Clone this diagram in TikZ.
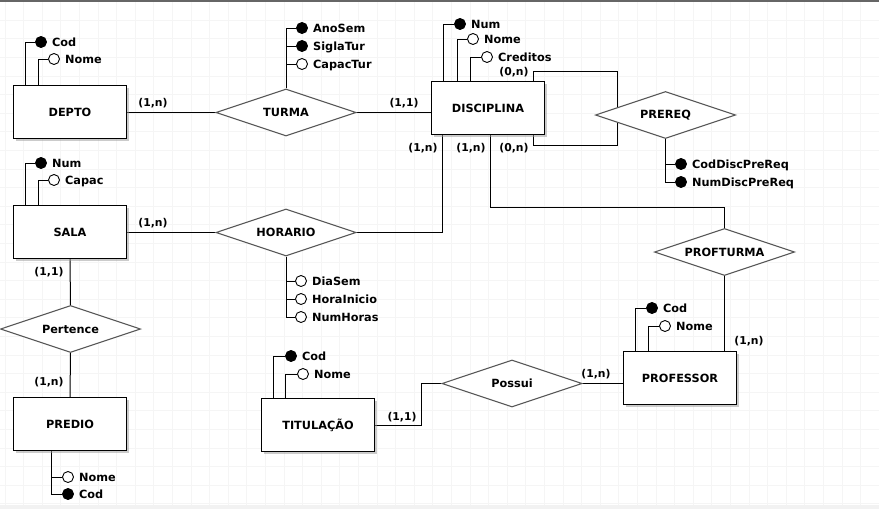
\documentclass[tikz,border=0pt]{standalone}
\usepackage{fontspec}
\setmainfont{DejaVu Sans}
\usetikzlibrary{shapes.geometric,shadows,calc}
\pgfdeclarelayer{gridl}
\pgfdeclarelayer{edges}
\pgfsetlayers{gridl,edges,main}
\newcommand{\erfont}{\bfseries\fontsize{11.3}{13}\selectfont}
\newcommand{\cardfont}{\bfseries\fontsize{10.8}{12}\selectfont}
\begin{document}
\begin{tikzpicture}[x=1pt,y=-1pt,
  entity/.style={draw=black, line width=1.2pt, fill=white, minimum width=113pt, minimum height=53pt, inner sep=0pt, font=\erfont, drop shadow={shadow xshift=2pt,shadow yshift=-2pt,fill=black!40}},
  rel/.style={diamond, aspect=3, draw=black!65, line width=1.1pt, fill=white, inner sep=0pt, font=\erfont, minimum width=140pt, minimum height=47pt},
  keyattr/.style={circle, draw=black, fill=black, minimum size=11pt, inner sep=0pt, line width=0.9pt},
  attr/.style={keyattr, fill=white},
  atext/.style={anchor=west, inner sep=0pt, font=\erfont, text height=8.2pt, text depth=0pt},
  card/.style={inner sep=0pt, font=\cardfont, text height=7.6pt, text depth=0pt},
  conn/.style={draw=black, line width=1pt}
]
\useasboundingbox (0,0) rectangle (879,509);

% background grid
\begin{pgfonlayer}{gridl}
  \fill[white] (0,0) rectangle (879,509);
  \foreach \i in {0,...,47} \draw[black!4, line width=0.6pt] ({4.8+18.6*\i},0) -- ++(0,509);
  \foreach \j in {0,...,27} \draw[black!4, line width=0.6pt] (0,{1.4+18.6*\j}) -- ++(879,0);
  \fill[black!5] (0,505) rectangle (879,509);
  \draw[black!60, line width=1.5pt] (0,0.75) -- (879,0.75);
\end{pgfonlayer}

% entities
\node[entity] (DEPTO) at (70,112) {DEPTO};
\node[entity] (SALA) at (70,232) {SALA};
\node[entity] (PREDIO) at (70,424) {PREDIO};
\node[entity] (DISC) at (488,108) {DISCIPLINA};
\node[entity] (PROF) at (680,378) {PROFESSOR};
\node[entity] (TIT) at (318,425) {TITULAÇÃO};

% relationships
\node[rel] (TURMA) at (286,112.5) {TURMA};
\node[rel] (HORARIO) at (286,232.5) {HORARIO};
\node[rel] (PREREQ) at (665.5,115) {PREREQ};
\node[rel] (PROFTURMA) at (724.5,252) {PROFTURMA};
\node[rel] (PERT) at (70.5,329) {Pertence};
\node[rel] (POSSUI) at (512,383.5) {Possui};

% attribute circles
\node[keyattr] (d1) at (41,42) {};
\node[attr] (d2) at (54,59) {};
\node[keyattr] (s1) at (41,163) {};
\node[attr] (s2) at (54,180) {};
\node[keyattr] (t1) at (302,28) {};
\node[keyattr] (t2) at (302,46) {};
\node[attr] (t3) at (302,64) {};
\node[keyattr] (n1) at (460,24) {};
\node[attr] (n2) at (473,39) {};
\node[attr] (n3) at (487,57) {};
\node[keyattr] (r1) at (681,164) {};
\node[keyattr] (r2) at (681,182) {};
\node[attr] (h1) at (301,281) {};
\node[attr] (h2) at (301,299) {};
\node[attr] (h3) at (301,317) {};
\node[keyattr] (p1) at (652,308) {};
\node[attr] (p2) at (665,326) {};
\node[keyattr] (ti1) at (291,356) {};
\node[attr] (ti2) at (303,374) {};
\node[attr] (pd1) at (68,477) {};
\node[keyattr] (pd2) at (68,494) {};

% attribute texts
\node[atext] (d1t) at ($(d1.east)+(5,0)$) {Cod};
\node[atext] (d2t) at ($(d2.east)+(5,0)$) {Nome};
\node[atext] (s1t) at ($(s1.east)+(5,0)$) {Num};
\node[atext] (s2t) at ($(s2.east)+(5,0)$) {Capac};
\node[atext] (t1t) at ($(t1.east)+(5,0)$) {AnoSem};
\node[atext] (t2t) at ($(t2.east)+(5,0)$) {SiglaTur};
\node[atext] (t3t) at ($(t3.east)+(5,0)$) {CapacTur};
\node[atext] (n1t) at ($(n1.east)+(5,0)$) {Num};
\node[atext] (n2t) at ($(n2.east)+(5,0)$) {Nome};
\node[atext] (n3t) at ($(n3.east)+(5,0)$) {Creditos};
\node[atext] (r1t) at ($(r1.east)+(5,0)$) {CodDiscPreReq};
\node[atext] (r2t) at ($(r2.east)+(5,0)$) {NumDiscPreReq};
\node[atext] (h1t) at ($(h1.east)+(5,0)$) {DiaSem};
\node[atext] (h2t) at ($(h2.east)+(5,0)$) {HoraInicio};
\node[atext] (h3t) at ($(h3.east)+(5,0)$) {NumHoras};
\node[atext] (p1t) at ($(p1.east)+(5,0)$) {Cod};
\node[atext] (p2t) at ($(p2.east)+(5,0)$) {Nome};
\node[atext] (ti1t) at ($(ti1.east)+(5,0)$) {Cod};
\node[atext] (ti2t) at ($(ti2.east)+(5,0)$) {Nome};
\node[atext] (pd1t) at ($(pd1.east)+(5,0)$) {Nome};
\node[atext] (pd2t) at ($(pd2.east)+(5,0)$) {Cod};

% cardinalities
\node[card] (c1) at (153,103) {(1,n)};
\node[card] (c2) at (404,103) {(1,1)};
\node[card] (c3) at (423,148) {(1,n)};
\node[card] (c4) at (471,148) {(1,n)};
\node[card] (c5) at (514,148) {(0,n)};
\node[card] (c6) at (514,72) {(0,n)};
\node[card] (c7) at (153,223) {(1,n)};
\node[card] (c8) at (49,272) {(1,1)};
\node[card] (c9) at (49,382) {(1,n)};
\node[card] (c10) at (402,417) {(1,1)};
\node[card] (c11) at (596,374) {(1,n)};
\node[card] (c12) at (749,341) {(1,n)};

% connectors
\begin{pgfonlayer}{edges}
  \draw[conn] (DEPTO.east |- TURMA.west) -- (TURMA.west);
  \draw[conn] (TURMA.east) -- (TURMA.east -| DISC.west);
  \draw[conn] (SALA.east |- HORARIO.west) -- (HORARIO.west);
  \draw[conn] (HORARIO.east) -| ($(DISC.south west)+(12,0)$);
  \draw[conn] ($(DISC.south west)+(60,0)$) |- ($(PROFTURMA.north)+(0,-20)$) -- (PROFTURMA.north);
  \draw[conn] (PROFTURMA.south) -- (PROFTURMA.south |- PROF.north);
  \draw[conn] ($(DISC.north west)+(103,0)$) -- ++(0,-9) -| ($(PREREQ.west)+(23,0)$);
  \draw[conn] ($(DISC.south west)+(103,0)$) -- ++(0,10) -| ($(PREREQ.west)+(23,0)$);
  \draw[conn] (SALA.south) -- (PERT.north);
  \draw[conn] (PERT.south) -- (PREDIO.north);
  \draw[conn] (POSSUI.east) -- (POSSUI.east -| PROF.west);
  \draw[conn] (TIT.east) -| ($(POSSUI.west)+(-20,0)$) -- (POSSUI.west);
  % attributes
  \draw[conn] ($(DEPTO.north west)+(13,0)$) |- (d1);
  \draw[conn] ($(DEPTO.north west)+(26,0)$) |- (d2);
  \draw[conn] ($(SALA.north west)+(13,0)$) |- (s1);
  \draw[conn] ($(SALA.north west)+(26,0)$) |- (s2);
  \draw[conn] (TURMA.north) |- (t1);
  \draw[conn] (TURMA.north) |- (t2);
  \draw[conn] (TURMA.north) |- (t3);
  \draw[conn] ($(DISC.north west)+(13,0)$) |- (n1);
  \draw[conn] ($(DISC.north west)+(27,0)$) |- (n2);
  \draw[conn] ($(DISC.north west)+(40,0)$) |- (n3);
  \draw[conn] (PREREQ.south) |- (r1);
  \draw[conn] (PREREQ.south) |- (r2);
  \draw[conn] (HORARIO.south) |- (h1);
  \draw[conn] (HORARIO.south) |- (h2);
  \draw[conn] (HORARIO.south) |- (h3);
  \draw[conn] ($(PROF.north west)+(13,0)$) |- (p1);
  \draw[conn] ($(PROF.north west)+(26,0)$) |- (p2);
  \draw[conn] ($(TIT.north west)+(13,0)$) |- (ti1);
  \draw[conn] ($(TIT.north west)+(25,0)$) |- (ti2);
  \draw[conn] ($(PREDIO.south west)+(39,0)$) |- (pd1);
  \draw[conn] ($(PREDIO.south west)+(39,0)$) |- (pd2);
\end{pgfonlayer}
\end{tikzpicture}
\end{document}
